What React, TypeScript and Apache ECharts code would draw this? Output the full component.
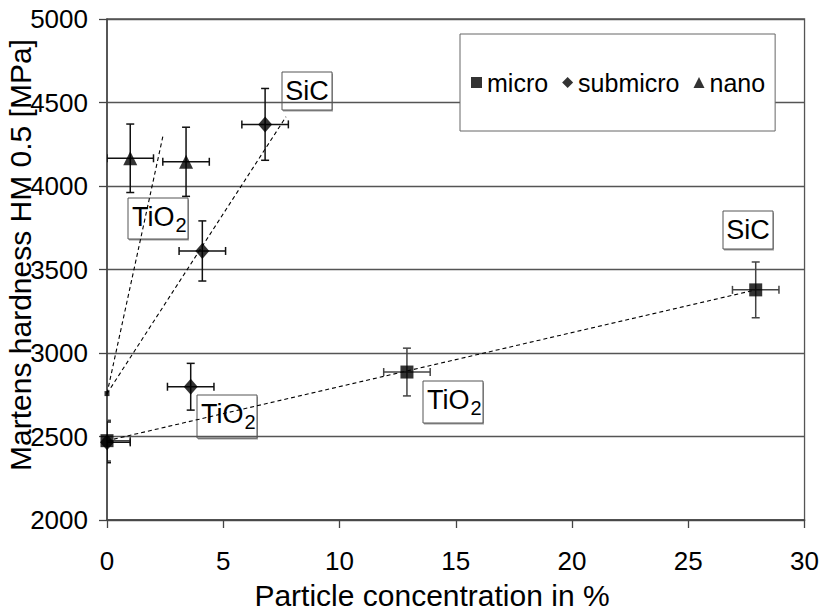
import React, { useEffect, useRef } from "react";
import * as echarts from "echarts";

// ---- data ----
const microX = [0, 12.9, 27.9];
const microY = [2475, 2886, 3378];
const microErrX = [1, 1, 1];
const microErrY = [122, 143, 167];

const submicroX = [0, 3.6, 4.1, 6.8];
const submicroY = [2465, 2798, 3611, 4369];
const submicroErrX = [1, 1, 1, 1];
const submicroErrY = [122, 140, 180, 215];

const nanoX = [1.0, 3.4];
const nanoY = [4166, 4145];
const nanoErrX = [1, 1];
const nanoErrY = [205, 207];

const originX = [0];
const originY = [2757];

const trendMicroX = [0, 27.9];
const trendMicroY = [2475, 3378];
const trendSubmicroX = [0, 7.7];
const trendSubmicroY = [2757, 4415];
const trendNanoX = [0, 2.4];
const trendNanoY = [2757, 4295];

const xTicks = [0, 5, 10, 15, 20, 25, 30];
const yTicks = [2000, 2500, 3000, 3500, 4000, 4500, 5000];

const FONT = "'Liberation Sans', Arial, Helvetica, sans-serif";

const zip = (xs: number[], ys: number[]) => xs.map((x, i) => [x, ys[i]]);
const zipErr = (xs: number[], ys: number[], ex: number[], ey: number[]) =>
  xs.map((x, i) => [x, ys[i], ex[i], ey[i]]);

function makeErrRenderer(color: string) {
  return function renderErr(_params: any, api: any) {
    const x = api.value(0);
    const y = api.value(1);
    const ex = api.value(2);
    const ey = api.value(3);
    const c = api.coord([x, y]);
    const l = api.coord([x - ex, y]);
    const r = api.coord([x + ex, y]);
    const t = api.coord([x, y + ey]);
    const b = api.coord([x, y - ey]);
    const cap = 4;
    const style = { stroke: color, lineWidth: 1.5, fill: null };
    const ln = (x1: number, y1: number, x2: number, y2: number) => ({
      type: "line",
      shape: { x1, y1, x2, y2 },
      style,
    });
    return {
      type: "group",
      children: [
        ln(l[0], c[1], r[0], c[1]),
        ln(l[0], c[1] - cap, l[0], c[1] + cap),
        ln(r[0], c[1] - cap, r[0], c[1] + cap),
        ln(c[0], t[1], c[0], b[1]),
        ln(c[0] - cap, t[1], c[0] + cap, t[1]),
        ln(c[0] - cap, b[1], c[0] + cap, b[1]),
      ],
    };
  };
}

function labelBox(left: number, top: number, w: number, h: number, main: string, sub?: string) {
  const children: any[] = [
    {
      type: "rect",
      shape: { x: left + 1, y: top + 1.5, width: w, height: h },
      style: { fill: "#9a9a9a" },
    },
    {
      type: "rect",
      shape: { x: left, y: top, width: w, height: h },
      style: { fill: "#ffffff", stroke: "#555555", lineWidth: 1 },
    },
  ];
  if (sub) {
    children.push({
      type: "text",
      x: left + 4,
      y: top + 19,
      style: {
        text: `{m|${main}}{s|${sub}}`,
        fill: "#000",
        verticalAlign: "middle",
        align: "left",
        rich: {
          m: { fontSize: 27, fontFamily: FONT, fill: "#000" },
          s: { fontSize: 20, fontFamily: FONT, fill: "#000", padding: [16, 0, 0, 1] },
        },
      },
    });
  } else {
    children.push({
      type: "text",
      x: left + w / 2,
      y: top + h / 2,
      style: { text: main, font: `27px ${FONT}`, fill: "#000", verticalAlign: "middle", align: "center" },
    });
  }
  return { type: "group", z: 50, children };
}

export default function App() {
  const ref = useRef<HTMLDivElement>(null);
  useEffect(() => {
    if (!ref.current) return;
    const chart = echarts.init(ref.current, undefined, { renderer: "svg" });
    const dashed = { color: "#000", width: 1.1, type: [4, 3] as any };
    chart.setOption({
      animation: false,
      backgroundColor: "#ffffff",
      textStyle: { fontFamily: FONT },
      grid: {
        left: 107,
        right: 16,
        top: 19,
        bottom: 92,
        show: true,
        borderColor: "#555",
        borderWidth: 1.3,
        backgroundColor: "transparent",
      },
      legend: {
        left: 460,
        top: 34,
        padding: [36, 10, 36, 11],
        itemGap: 14,
        itemWidth: 11,
        itemHeight: 11,
        backgroundColor: "#fff",
        borderColor: "#666",
        borderWidth: 1,
        textStyle: { fontSize: 25, color: "#000", fontFamily: FONT },
        data: [
          { name: "micro", icon: "rect" },
          { name: "submicro", icon: "diamond" },
          { name: "nano", icon: "triangle" },
        ],
      },
      xAxis: {
        type: "value",
        min: xTicks[0],
        max: xTicks[xTicks.length - 1],
        interval: 5,
        axisLine: { show: true, onZero: false, lineStyle: { color: "#444", width: 1.5 } },
        axisTick: { show: true, inside: false, length: 8, lineStyle: { color: "#444", width: 1.3 } },
        axisLabel: { fontSize: 26, color: "#000", margin: 28, fontFamily: FONT, formatter: (v: number) => String(v) },
        splitLine: { show: false },
      },
      yAxis: {
        type: "value",
        min: yTicks[0],
        max: yTicks[yTicks.length - 1],
        interval: 500,
        axisLine: { show: true, onZero: false, lineStyle: { color: "#444", width: 1.5 } },
        axisTick: { show: true, inside: false, length: 8, lineStyle: { color: "#444", width: 1.3 } },
        axisLabel: { fontSize: 26, color: "#000", margin: 19, fontFamily: FONT, formatter: (v: number) => String(v) },
        splitLine: { show: true, lineStyle: { color: "#555", width: 1.3 } },
      },
      series: [
        { name: "trendMicro", type: "line", data: zip(trendMicroX, trendMicroY), symbol: "none", lineStyle: dashed, z: 2, silent: true },
        { name: "trendSubmicro", type: "line", data: zip(trendSubmicroX, trendSubmicroY), symbol: "none", lineStyle: dashed, z: 2, silent: true },
        { name: "trendNano", type: "line", data: zip(trendNanoX, trendNanoY), symbol: "none", lineStyle: dashed, z: 2, silent: true },
        { name: "errMicro", type: "custom", renderItem: makeErrRenderer("#444"), data: zipErr(microX, microY, microErrX, microErrY), encode: { x: 0, y: 1 }, clip: true, z: 3 },
        { name: "errSubmicro", type: "custom", renderItem: makeErrRenderer("#111"), data: zipErr(submicroX, submicroY, submicroErrX, submicroErrY), encode: { x: 0, y: 1 }, clip: true, z: 3 },
        { name: "errNano", type: "custom", renderItem: makeErrRenderer("#111"), data: zipErr(nanoX, nanoY, nanoErrX, nanoErrY), encode: { x: 0, y: 1 }, clip: true, z: 3 },
        { name: "micro", type: "scatter", data: zip(microX, microY), symbol: "rect", symbolSize: 13, itemStyle: { color: "#000" }, z: 5 },
        { name: "submicro", type: "scatter", data: zip(submicroX, submicroY), symbol: "diamond", symbolSize: [14, 16], itemStyle: { color: "#000" }, z: 5 },
        { name: "nano", type: "scatter", data: zip(nanoX, nanoY), symbol: "triangle", symbolSize: [14, 14], itemStyle: { color: "#000" }, z: 5 },
        { name: "origin", type: "scatter", data: zip(originX, originY), symbol: "rect", symbolSize: 5, itemStyle: { color: "#000" }, z: 5 },
      ],
      graphic: [
        labelBox(282, 72, 50, 38, "SiC"),
        labelBox(128, 198, 60, 41, "TiO", "2"),
        labelBox(197, 395, 60, 43, "TiO", "2"),
        labelBox(423, 381, 60, 42, "TiO", "2"),
        labelBox(723, 211, 50, 38, "SiC"),
        {
          type: "text",
          x: 432,
          y: 595,
          style: { text: "Particle concentration in %", font: `30px ${FONT}`, fill: "#000", align: "center", verticalAlign: "middle" },
        },
        {
          type: "text",
          x: 20,
          y: 255,
          rotation: Math.PI / 2,
          style: { text: "Martens hardness HM 0.5 [MPa]", font: `30px ${FONT}`, fill: "#000", align: "center", verticalAlign: "middle" },
        },
      ],
    });
    return () => chart.dispose();
  }, []);
  return (
    <div
      ref={ref}
      style={{ position: "fixed", left: 0, top: 0, width: 822, height: 612 }}
    />
  );
}
